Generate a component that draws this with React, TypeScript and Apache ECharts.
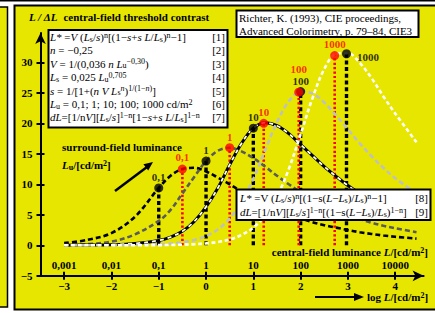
import React, { useEffect, useRef } from 'react';
import * as echarts from 'echarts';

// log L (central-field luminance) sample positions
const logL = [-3, -2.5, -2, -1.5, -1, -0.75, -0.5, -0.25, 0, 0.25, 0.5, 0.75, 1, 1.25, 1.5, 1.75, 2, 2.25, 2.5, 2.75, 3, 3.25, 3.5, 3.75, 4, 4.45];
// L/ΔL for surround luminances Lu = 0.1, 1, 10, 100, 1000 cd/m2
const lu01 = [0.35, 0.9, 2.0, 4.7, 9.4, 11.4, 12.5, 12.7, 12.1, 11.1, 10.0, 8.8, 7.7, 6.7, 5.9, 5.1, 4.4, 3.8, 3.3, 2.9, 2.5, 2.15, 1.86, 1.6, 1.4, 1.1];
const lu1 = [0.05, 0.2, 0.6, 1.8, 4.0, 5.8, 8.5, 11.2, 13.8, 15.5, 16.0, 15.4, 14.3, 12.9, 11.4, 10.0, 8.7, 7.6, 6.6, 5.7, 4.9, 4.3, 3.7, 3.2, 2.8, 2.15];
const lu10 = [0.02, 0.04, 0.1, 0.3, 0.8, 1.35, 2.3, 3.9, 6.3, 9.4, 13.2, 16.7, 19.2, 20.1, 19.6, 18.3, 16.5, 14.7, 12.9, 11.3, 9.8, 8.5, 7.4, 6.4, 5.5, 4.3];
const lu100 = [0, 0.01, 0.02, 0.05, 0.16, 0.28, 0.5, 0.86, 1.5, 2.6, 4.4, 7.1, 10.9, 15.6, 20.2, 23.6, 25.2, 24.9, 23.4, 21.3, 19.0, 16.7, 14.6, 12.7, 11.0, 8.5];
const lu1000 = [0, 0, 0, 0.01, 0.03, 0.05, 0.1, 0.17, 0.31, 0.54, 0.95, 1.7, 2.9, 4.9, 8.0, 12.5, 18.2, 24.1, 28.9, 31.4, 31.5, 29.9, 27.4, 24.4, 21.6, 16.9];

const dotLabels = ['0,1', '1', '10', '100', '1000'];
const blackDotX = [-1, 0, 1, 2, 2.97];
const blackDotY = [9.4, 13.8, 19.2, 25.2, 31.4];
const redDotX = [-0.5, 0.5, 1.22, 1.96, 2.72];
const redDotY = [12.5, 16.0, 20.0, 25.1, 31.1];

const xTicks = [-3, -2, -1, 0, 1, 2, 3, 4];
const xTopLabels = ['0,001', '0,01', '0,1', '1', '10', '100', '1000', '10000'];
const yTicks = [-5, 0, 5, 10, 15, 20, 25, 30];

const FF = '"Liberation Serif", "DejaVu Serif", "Times New Roman", serif';
const YEL = '#e6e600';

const st = (size: number, weight: string, style: string, extra: any = {}) => ({
  fontFamily: FF, fontSize: size, fontWeight: weight, fontStyle: style, fill: '#000', ...extra,
});
const MAINLH = 12;
const richN = {
  r: st(11, 'normal', 'normal', { lineHeight: MAINLH }),
  i: st(11, 'normal', 'italic', { lineHeight: MAINLH }),
  sub: st(8, 'normal', 'normal', { lineHeight: 8, verticalAlign: 'bottom' }),
  sup: st(8, 'normal', 'normal', { lineHeight: 8, verticalAlign: 'top' }),
  supi: st(8, 'normal', 'italic', { lineHeight: 8, verticalAlign: 'top' }),
};
const richB = {
  b: st(11, 'bold', 'normal', { lineHeight: MAINLH }),
  bi: st(11, 'bold', 'italic', { lineHeight: MAINLH }),
  subb: st(8, 'bold', 'normal', { lineHeight: 8, verticalAlign: 'bottom' }),
  supb: st(8, 'bold', 'normal', { lineHeight: 8, verticalAlign: 'top' }),
};

const txt = (x: number, y: number, text: string, rich: any, align = 'left', bold = false) => ({
  type: 'text', x, y, z: 110,
  style: {
    text, rich, fontFamily: FF, fontSize: 11, fontWeight: bold ? 'bold' : 'normal', fontStyle: 'normal',
    lineHeight: MAINLH, fill: '#000', align, verticalAlign: 'middle', textAlign: align, textVerticalAlign: 'middle',
  },
});
const box = (x: number, y: number, w: number, h: number) => ({
  type: 'rect', z: 100, shape: { x, y, width: w, height: h },
  style: { fill: '#fff', stroke: '#000', lineWidth: 2 },
});

const formulas1 = [
  '{i|L*} ={i|V} ({i|L}{sub|s}/{i|s}){sup|n}[(1−{i|s}+{i|s L}/{i|L}{sub|s}){sup|n}−1]',
  '{i|n} = −0,25',
  '{i|V} = 1/(0,036 {i|n L}{sub|u}{sup|−0,30})',
  '{i|L}{sub|s} = 0,025 {i|L}{sub|u}{sup|0,705}',
  '{i|s} = 1/[1+({i|n V L}{sub|s}{supi|n}){sup|1/(1−}{supi|n}{sup|)}]',
  '{i|L}{sub|u} = 0,1; 1; 10; 100; 1000 cd/m{sup|2}',
  '{i|dL}=[1/n{i|V}][{i|L}{sub|s}/{i|s}]{sup|1−n}[1−{i|s}+{i|s L}/{i|L}{sub|s}]{sup|1−n}',
];
const formulas2 = [
  '{i|L*} =V ({i|L}{sub|s}/{i|s}){sup|n}[(1−s({i|L}−{i|L}{sub|s})/{i|L}{sub|s}){sup|n}−1]',
  '{i|dL}=[1/n{i|V}][{i|L}{sub|s}/{i|s}]{sup|1−n}[(1−s({i|L}−{i|L}{sub|s})/{i|L}{sub|s}){sup|1−n}]',
];

const G = { left: 40.5, top: 33, width: 383.1, height: 242.8, outerBoundsMode: 'none' };
const XMIN = -3.5, XMAX = 4.6, YMIN = -5, YMAX = 34.8;
const labFont = { fontFamily: FF, fontSize: 11, fontWeight: 'bold', color: '#000' };
const minus = (v: number) => (v < 0 ? '−' + Math.abs(v) : String(v));

const curve = (vals: number[], color: string, width: number, type: any, z: number) => ({
  type: 'line', data: logL.map((x, i) => [x, vals[i]]), showSymbol: false, smooth: 0.35, silent: true,
  lineStyle: { color, width, type }, z,
});

function buildOption() {
  const series: any[] = [];
  blackDotX.forEach((x, i) => series.push({
    type: 'line', data: [[x, 0], [x, blackDotY[i]]], showSymbol: false, silent: true,
    lineStyle: { color: '#000', width: 3.4, type: [4, 2.7] }, z: 3,
  }));
  redDotX.forEach((x, i) => series.push({
    type: 'line', data: [[x, 0], [x, redDotY[i]]], showSymbol: false, silent: true,
    lineStyle: { color: '#ff0000', width: 2.6, type: [2.2, 2.2] }, z: 3,
  }));
  series.push(curve(lu01, '#000', 2.6, [5, 3], 4));
  series.push(curve(lu1, '#5a5a5a', 2.6, [5, 3], 4));
  series.push(curve(lu10, '#000', 3, 'solid', 4));
  series.push(curve(lu10, '#fff', 1.8, [4, 4], 4));
  series.push(curve(lu100, '#c0c0c0', 2.6, [5, 3], 4));
  series.push(curve(lu1000, '#fff', 2.6, [4, 2.7], 4));

  const blackLab = [
    { position: 'top', distance: 1 }, { position: 'top', distance: 1 }, { position: 'top', distance: 1 },
    { position: 'top', distance: 1 }, { position: 'right', distance: 6, offset: [0, 3] },
  ];
  const redLab = [
    { position: 'top', distance: 2 }, { position: 'top', distance: 1 }, { position: 'top', distance: 1 },
    { position: 'top', distance: 13 }, { position: 'top', distance: 2 },
  ];
  series.push({
    type: 'scatter', symbolSize: 9, z: 6, silent: true, itemStyle: { color: '#000' },
    label: { show: true, ...labFont },
    data: blackDotX.map((x, i) => ({ value: [x, blackDotY[i]], label: { ...blackLab[i], formatter: dotLabels[i] } })),
  });
  series.push({
    type: 'scatter', symbolSize: 9, z: 7, silent: true, itemStyle: { color: '#ff0000' },
    label: { show: true, ...labFont, color: '#ff0000' },
    data: redDotX.map((x, i) => ({ value: [x, redDotY[i]], label: { ...redLab[i], formatter: dotLabels[i] } })),
  });

  const axisLineStyle = { color: '#000', width: 2 };
  const graphic: any[] = [
    { type: 'rect', z: -3, shape: { x: 0, y: 0, width: 435, height: 313 }, style: { fill: '#fff' } },
    { type: 'rect', z: -2, shape: { x: 0, y: 0, width: 435, height: 1.5 }, style: { fill: '#000' } },
    { type: 'rect', z: -2, shape: { x: -5, y: 7, width: 12.5, height: 300 }, style: { fill: YEL, stroke: '#000', lineWidth: 1.5 } },
    { type: 'rect', z: -2, shape: { x: 14.5, y: 5.5, width: 430, height: 304 }, style: { fill: YEL, stroke: '#000', lineWidth: 2 } },
    txt(29, 16.5, '{bi|L / ΔL}{b|  central-field threshold contrast}', richB, 'left', true),
    box(48.5, 30, 179, 97.5),
    box(236.5, 10.5, 182, 26.5),
    box(236.5, 189.5, 194, 30.5),
    txt(239, 17.5, 'Richter, K. (1993), CIE proceedings,', richN),
    txt(239, 31, 'Advanced Colorimetry, p. 79–84, CIE3', richN),
    txt(62, 147, '{b|surround-field luminance}', richB, 'left', true),
    txt(62, 165, '{bi|L}{subb|u}{b|/[cd/m}{supb|2}{b|]}', richB, 'left', true),
    txt(428, 252, '{b|central-field luminance }{bi|L}{b|/[cd/m}{supb|2}{b|]}', richB, 'right', true),
    txt(367, 297, '{b|log }{bi|L}{b|/[cd/m}{supb|2}{b|]}', richB, 'left', true),
    { type: 'line', z: 110, shape: { x1: 315, y1: 297, x2: 356, y2: 297 }, style: { stroke: '#000', lineWidth: 2 } },
    { type: 'polygon', z: 110, shape: { points: [[354, 293], [364, 297], [354, 301]] }, style: { fill: '#000' } },
    { type: 'line', z: 110, shape: { x1: 115, y1: 191, x2: 147, y2: 167 }, style: { stroke: '#000', lineWidth: 2.5 } },
    { type: 'polygon', z: 110, shape: { points: [[153, 162], [148.2, 170.6], [143.4, 164.2]] }, style: { fill: '#000' } },
  ];
  formulas1.forEach((f, i) => {
    const y = 37 + 13.4 * i;
    graphic.push(txt(50, y, f, richN));
    graphic.push(txt(225, y, '[' + (i + 1) + ']', richN, 'right'));
  });
  formulas2.forEach((f, i) => {
    const y = 198 + 14 * i;
    graphic.push(txt(240, y, f, richN));
    graphic.push(txt(428, y, '[' + (i + 8) + ']', richN, 'right'));
  });

  return {
    animation: false,
    backgroundColor: 'transparent',
    grid: [{ ...G }, { ...G }],
    xAxis: [
      {
        type: 'value', gridIndex: 0, min: XMIN, max: XMAX, position: 'bottom',
        axisLine: { show: true, onZero: false, lineStyle: axisLineStyle, symbol: ['none', 'arrow'], symbolSize: [8, 11] },
        axisTick: { show: true, customValues: xTicks, length: 4, lineStyle: axisLineStyle },
        axisLabel: { show: true, customValues: xTicks, formatter: (v: number) => minus(v), margin: 5, ...labFont },
        splitLine: { show: false },
      },
      {
        type: 'value', gridIndex: 1, min: XMIN, max: XMAX, position: 'bottom',
        axisLine: { show: false, onZero: false },
        axisTick: { show: true, inside: true, customValues: xTicks, length: 4, lineStyle: axisLineStyle },
        axisLabel: {
          show: true, inside: true, customValues: xTicks, margin: 5, ...labFont,
          formatter: (v: number) => xTopLabels[xTicks.indexOf(Math.round(v))] || '',
        },
        splitLine: { show: false },
      },
    ],
    yAxis: [
      {
        type: 'value', gridIndex: 0, min: YMIN, max: YMAX,
        axisLine: { show: true, onZero: false, lineStyle: axisLineStyle, symbol: ['none', 'arrow'], symbolSize: [8, 11] },
        axisTick: { show: true, customValues: yTicks, length: 4, lineStyle: axisLineStyle },
        axisLabel: { show: true, customValues: yTicks, formatter: (v: number) => minus(v), margin: 8, ...labFont },
        splitLine: { show: false },
      },
      {
        type: 'value', gridIndex: 1, min: YMIN, max: YMAX,
        axisLine: { show: false, onZero: false },
        axisTick: { show: true, inside: true, customValues: yTicks, length: 4, lineStyle: axisLineStyle },
        axisLabel: { show: false },
        splitLine: { show: false },
      },
    ],
    graphic: { elements: graphic },
    series,
  };
}

export default function App() {
  const ref = useRef<HTMLDivElement>(null);
  useEffect(() => {
    const chart = echarts.init(ref.current!, null, { renderer: 'svg' });
    chart.setOption(buildOption() as any);
    return () => chart.dispose();
  }, []);
  return (
    <div
      ref={ref}
      style={{ position: 'absolute', left: 0, top: 0, width: 435, height: 313, background: '#fff' }}
    />
  );
}
